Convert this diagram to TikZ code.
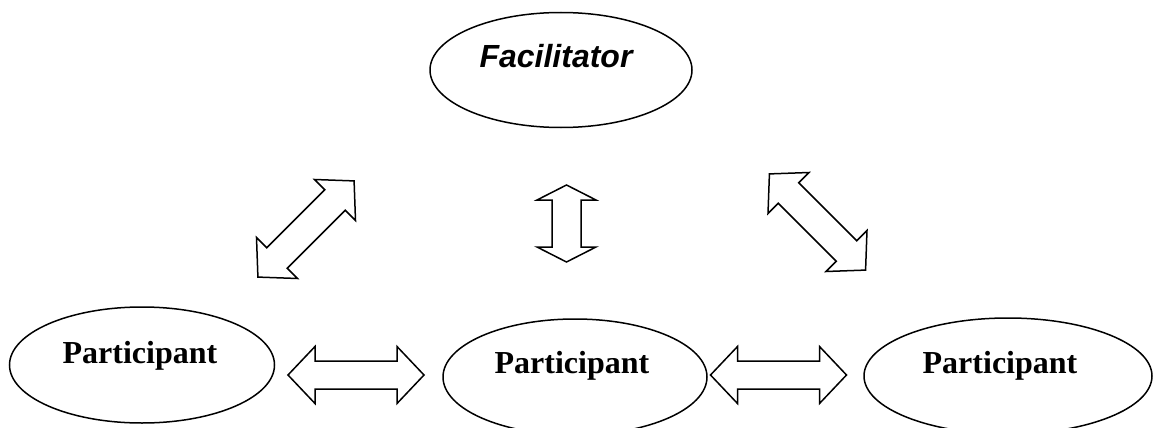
\documentclass[tikz,border=0pt]{standalone}
\usepackage{fontspec}
\newfontfamily\facfont{Liberation Sans}
\newfontfamily\partfont{Liberation Serif}
\usetikzlibrary{shapes.geometric}
\tikzset{
  oval/.style={ellipse, draw=black, line width=1.5pt, inner sep=0pt, fill=white},
  lbl/.style={inner sep=0pt, anchor=base},
  facstyle/.style={lbl, font=\facfont\bfseries\itshape\fontsize{32}{38}\selectfont},
  partstyle/.style={lbl, font=\partfont\bfseries\fontsize{32}{38}\selectfont},
  arrowline/.style={draw=black, line width=1.5pt, line join=miter, fill=white},
  pics/dblarrow/.style n args={4}{code={
    \draw[arrowline] (-#1,0) -- (-#1+#2,#3) -- (-#1+#2,#4) -- (#1-#2,#4) -- (#1-#2,#3) -- (#1,0)
      -- (#1-#2,-#3) -- (#1-#2,-#4) -- (-#1+#2,-#4) -- (-#1+#2,-#3) -- cycle;
  }}
}
\begin{document}
\begin{tikzpicture}[x=1pt,y=-1pt]
\useasboundingbox (0,0) rectangle (1154,428);
\clip (0,0) rectangle (1154,428);
% ellipses
\node[oval, minimum width=262pt, minimum height=115pt] (fac) at (561,70) {};
\node[oval, minimum width=265pt, minimum height=116pt] (p1) at (142,365) {};
\node[oval, minimum width=264pt, minimum height=116pt] (p2) at (575,377) {};
\node[oval, minimum width=288pt, minimum height=116pt] (p3) at (1008,376) {};
% labels
\node[facstyle] (tfac) at (556,67) {Facilitator};
\node[partstyle] (tp1) at (140,363) {Participant};
\node[partstyle] (tp2) at (572,373) {Participant};
\node[partstyle] (tp3) at (1000,373) {Participant};
% block double arrows
\pic[rotate=45] at (306,229) {dblarrow={68}{27}{29}{14.5}};
\pic[rotate=-45] at (817.5,222) {dblarrow={68}{27}{29}{14.5}};
\pic[rotate=90] at (566.5,223.5) {dblarrow={38.5}{15}{29.5}{14.5}};
\pic at (356,375) {dblarrow={68}{27}{28.5}{14}};
\pic at (778.5,375) {dblarrow={68}{27}{28.5}{14}};
\end{tikzpicture}
\end{document}
